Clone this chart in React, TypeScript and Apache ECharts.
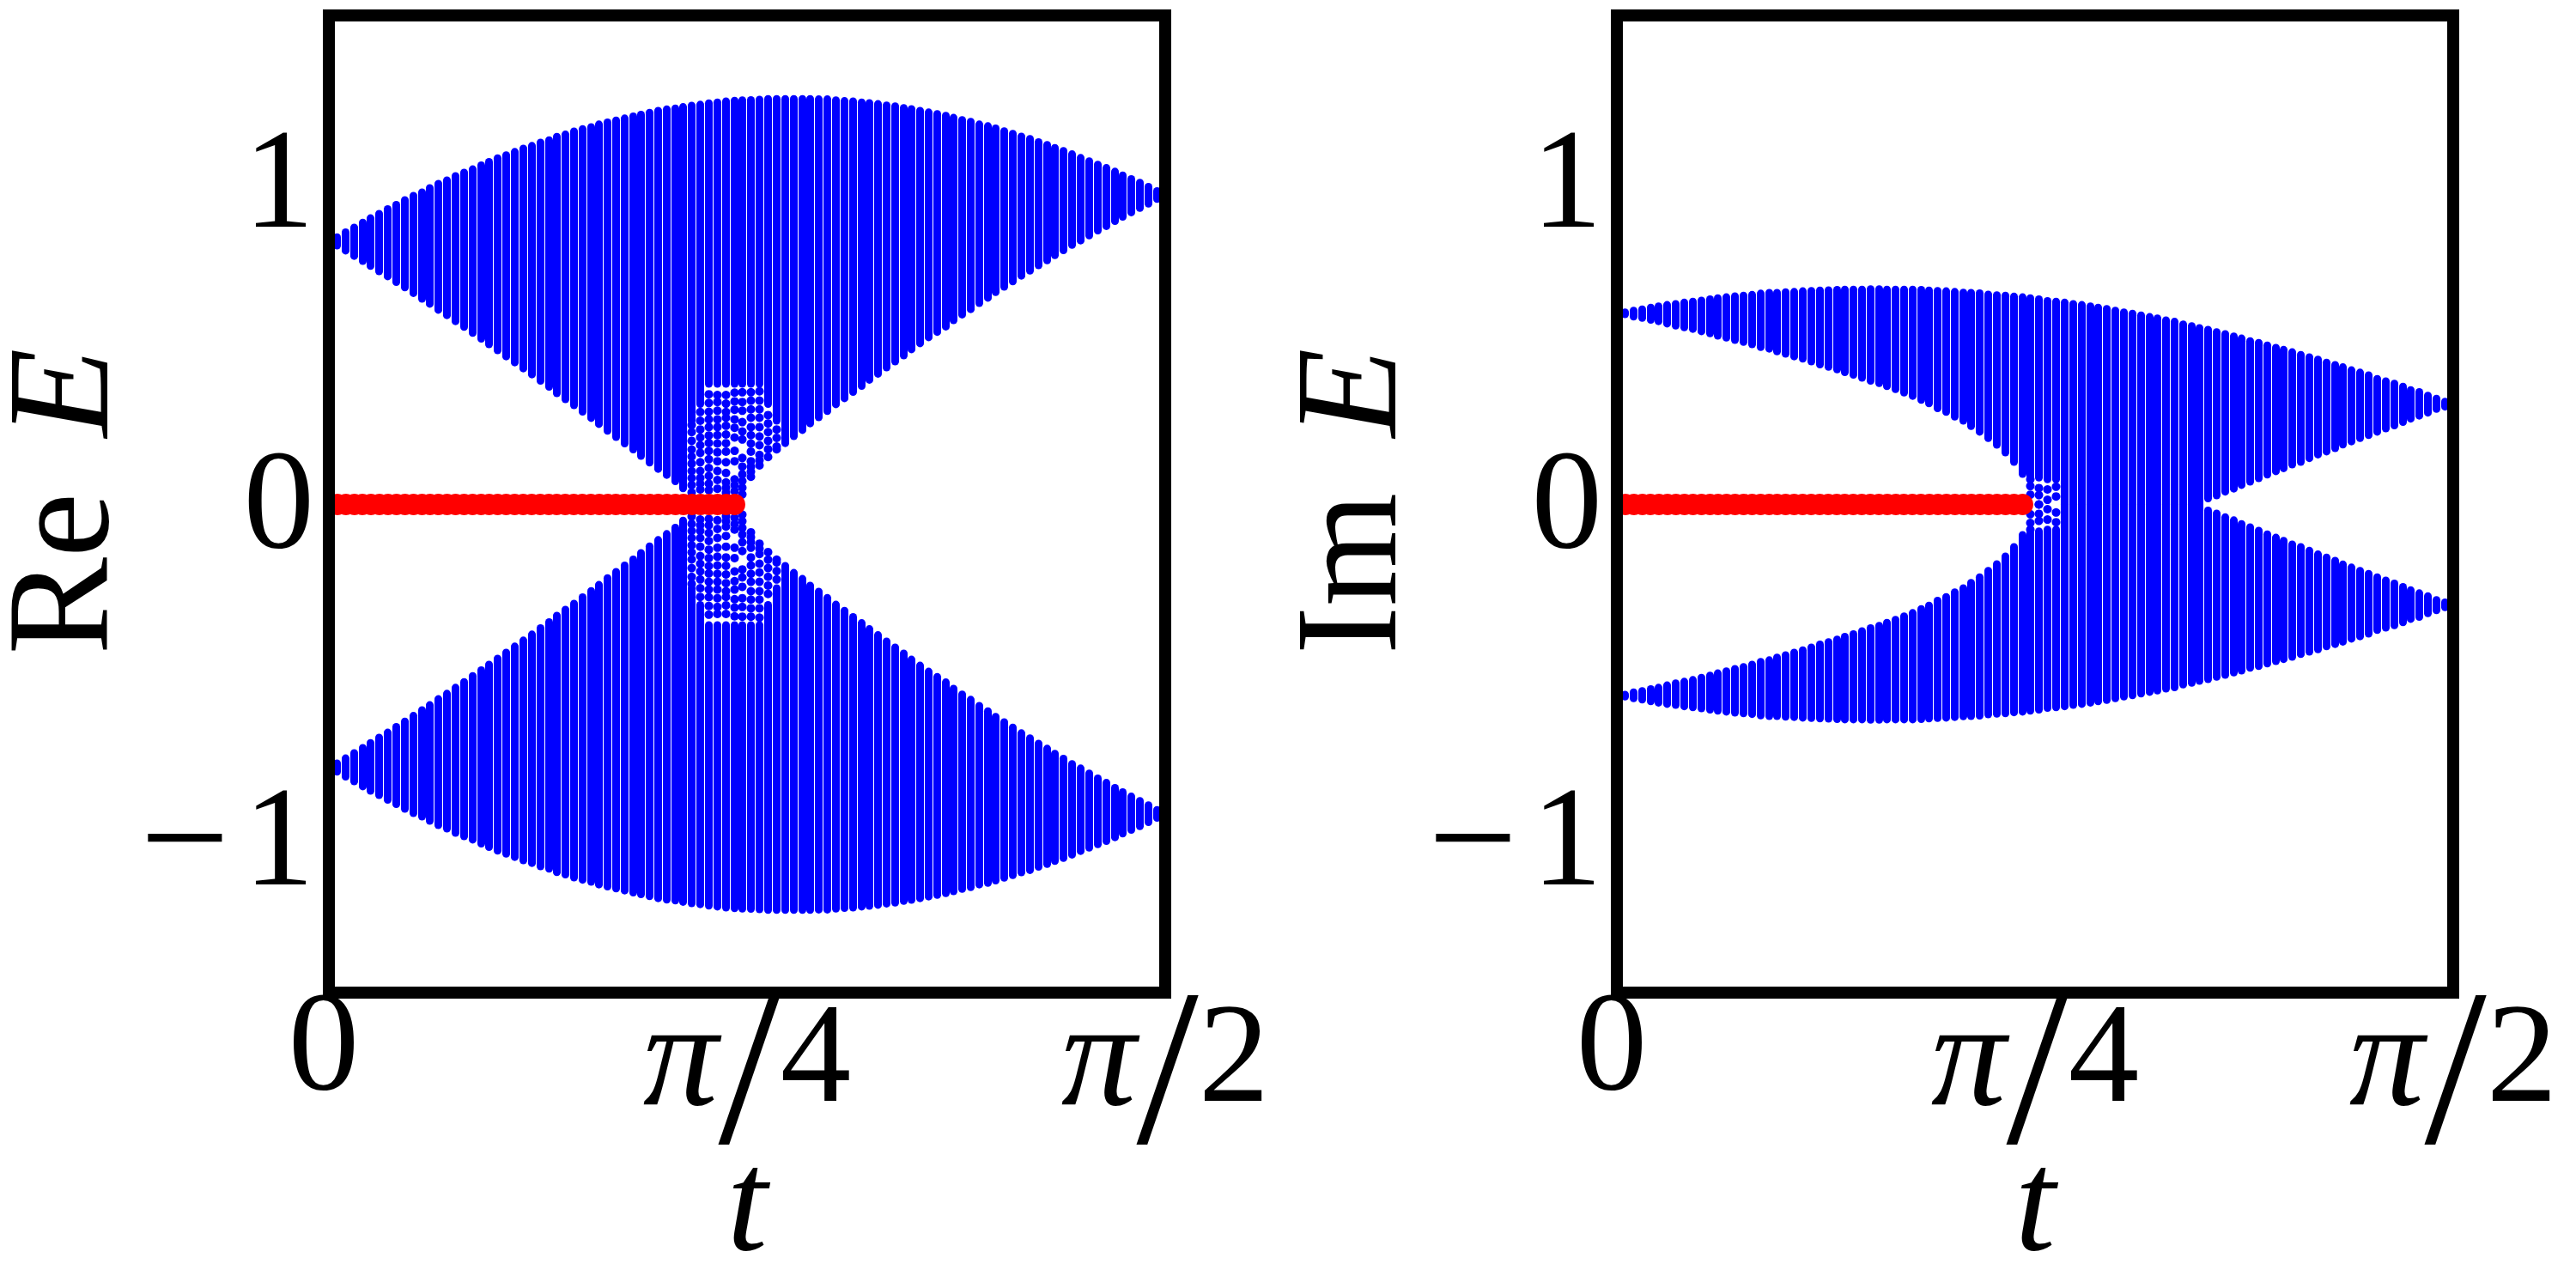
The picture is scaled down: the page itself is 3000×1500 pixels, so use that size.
import React, { useEffect, useRef } from "react";
import * as echarts from "echarts";

// Lattice parameter t of every plotted column (radians), columns hidden behind the frame left out.
const tColumns = [
  .016,.032,.048,.063,.079,.095,.111,.127,.143,.159,
  .175,.190,.206,.222,.238,.254,.270,.286,.301,.317,
  .333,.349,.365,.381,.397,.413,.428,.444,.460,.476,
  .492,.508,.524,.539,.555,.571,.587,.603,.619,.635,
  .651,.666,.682,.698,.714,.730,.746,.762,.777,.793,
  .809,.825,.841,.857,.873,.889,.904,.920,.936,.952,
  .968,.984,1.000,1.015,1.031,1.047,1.063,1.079,1.095,1.111,
  1.127,1.142,1.158,1.174,1.190,1.206,1.222,1.238,1.253,1.269,
  1.285,1.301,1.317,1.333,1.349,1.364,1.380,1.396,1.412,1.428,
  1.444,1.460,1.476,1.491,1.507,1.523,1.539,1.555,
];

// Re E: outer and inner edge of the positive band (the negative band is its mirror image).
const reOuter = [
  .798,.813,.827,.842,.855,.868,.882,.895,.909,.922,
  .932,.945,.958,.968,.981,.991,1.001,1.013,1.023,1.034,
  1.043,1.053,1.063,1.071,1.081,1.088,1.098,1.105,1.114,1.121,
  1.127,1.135,1.141,1.147,1.153,1.159,1.164,1.170,1.176,1.180,
  1.183,1.187,1.191,1.194,1.198,1.201,1.204,1.206,1.207,1.208,
  1.209,1.211,1.211,1.211,1.211,1.211,1.211,1.210,1.210,1.207,
  1.205,1.204,1.201,1.199,1.196,1.192,1.189,1.184,1.181,1.176,
  1.171,1.166,1.161,1.155,1.148,1.143,1.135,1.130,1.123,1.115,
  1.107,1.099,1.092,1.082,1.074,1.065,1.056,1.046,1.035,1.025,
  1.015,1.005,.994,.983,.972,.961,.949,.936,
];
const reInner = [
  .773,.758,.742,.727,.712,.696,.681,.664,.648,.631,
  .614,.599,.581,.565,.547,.530,.512,.495,.478,.460,
  .442,.424,.406,.388,.369,.351,.332,.314,.296,.277,
  .258,.240,.220,.201,.182,.164,.145,.125,.106,.088,
  .069,.048,.250,.300,.360,.360,.360,.360,.360,.360,
  .360,.300,.250,.183,.204,.222,.242,.260,.279,.299,
  .317,.336,.354,.372,.390,.409,.427,.445,.463,.481,
  .499,.515,.531,.550,.567,.583,.601,.617,.634,.650,
  .666,.683,.698,.714,.729,.744,.759,.775,.788,.803,
  .818,.831,.846,.859,.872,.885,.898,.912,
];
// Re E: separate dots near the gap closing, one list per column.
const reDotT = [.682,.698,.714,.730,.746,.762,.777,.793,.809,.825,.841];
const reDotE = [
  [.237,.216,.190,.164,.143,.122,.100,.079,.058,.036],
  [.276,.250,.224,.200,.177,.154,.126,.100,.079,.062,.045],
  [.329,.303,.277,.254,.231,.206,.184,.160,.135,.109,.085,.062,.043],
  [.327,.306,.280,.254,.231,.207,.182,.156,.129,.100,.073,.047],
  [.327,.301,.276,.259,.235,.209,.183,.158,.126,.094,.066,.050,.035],
  [.334,.308,.283,.254,.229,.200,.160,.129,.075,.058,.040],
  [.335,.306,.280,.246,.218,.194,.139,.113,.090,.070,.050,.030],
  [.335,.310,.284,.259,.231,.207,.182,.158,.129,.113,.098,.083],
  [.338,.310,.284,.259,.231,.203,.177,.148,.132,.117],
  [.267,.242,.216,.190,.165,.142],
  [.224,.199,.173,.165],
];

// Im E: outer and inner edge of the positive band (the negative band is its mirror image).
const imOuter = [
  .574,.579,.583,.588,.592,.596,.599,.603,.606,.609,
  .613,.616,.619,.622,.624,.626,.630,.632,.632,.634,
  .635,.637,.638,.639,.640,.641,.642,.642,.642,.643,
  .643,.642,.642,.642,.642,.641,.639,.638,.637,.635,
  .633,.632,.631,.627,.625,.624,.621,.619,.616,.613,
  .608,.606,.603,.599,.596,.592,.588,.584,.579,.574,
  .570,.565,.560,.556,.550,.546,.538,.533,.527,.522,
  .515,.509,.502,.496,.488,.483,.475,.468,.462,.455,
  .447,.440,.433,.424,.417,.410,.401,.394,.386,.375,
  .368,.361,.352,.342,.336,.325,.316,.307,
];
const imInner = [
  .568,.561,.557,.551,.547,.540,.534,.529,.524,.517,
  .511,.504,.498,.491,.485,.478,.470,.465,.457,.450,
  .442,.435,.427,.418,.411,.403,.395,.387,.378,.369,
  .362,.353,.344,.334,.324,.312,.302,.287,.276,.262,
  .250,.234,.217,.198,.178,.155,.127,.091,.085,.080,
  .075,.075,0,0,0,0,0,0,0,0,
  0,0,0,0,0,0,0,0,0,.018,
  .027,.038,.047,.058,.068,.078,.089,.099,.108,.119,
  .127,.138,.149,.158,.168,.179,.188,.198,.207,.217,
  .227,.236,.246,.256,.265,.274,.285,.292,
];
const imDotT = [.777,.793,.809,.825];
const imDotE = [
  [.075,.055,.029],
  [.049,.028,0],
  [.045,.014],
  [.053,.024],
];

// Zero modes (red): the columns up to the end of the red bar.
const zeroModeT = tColumns.slice(0, 48);

const xTicks = [0, Math.PI / 4, Math.PI / 2];
const xTickLabels = ["{zero|0}", "{pi|π}{sl|/}{d|4}", "{pi|π}{sl|/}{d|2}"];
const yTicks = [-1, 0, 1];
const yTickLabels = ["{minus|−}{neg|1}", "{zero|0}", "{one|1}"];

const FONT = "Liberation Serif";
const BLUE = "#0000ff";
const RED = "#ff0000";
const PANEL_W = 974;
const PANEL_H = 1138;
const PANEL_TOP = 18;
const PANEL_LEFTS = [383, 1883];
const Y_MIN = -1.4577;
const Y_MAX = 1.4603;
const COLUMN_WIDTH = 9;
const DOT_R = 5;

function columnData(outer: number[], inner: number[]) {
  const rows: number[][] = [];
  tColumns.forEach((t, i) => {
    rows.push([t, inner[i], outer[i]]);
    rows.push([t, -outer[i], -inner[i]]);
  });
  return rows;
}

function dotData(ts: number[], lists: number[][]) {
  const rows: number[][] = [];
  ts.forEach((t, i) => {
    lists[i].forEach((e) => {
      rows.push([t, e]);
      rows.push([t, -e]);
    });
  });
  return rows;
}

// Columns snap to whole pixels, as the rasterised columns of the reference do.
const snap = (x: number) => Math.round(x - 0.5) + 0.5;

function renderColumn(_: any, api: any) {
  const a = api.coord([api.value(0), api.value(1)]);
  const b = api.coord([api.value(0), api.value(2)]);
  const x = snap(a[0]);
  return {
    type: "line",
    shape: { x1: x, y1: a[1], x2: x, y2: b[1] },
    style: { stroke: BLUE, lineWidth: COLUMN_WIDTH, lineCap: "round", fill: null },
  };
}

function renderDot(_: any, api: any) {
  const p = api.coord([api.value(0), api.value(1)]);
  return {
    type: "circle",
    shape: { cx: snap(p[0]), cy: p[1], r: DOT_R },
    style: { fill: BLUE },
  };
}

function panelSeries(index: number, outer: number[], inner: number[], ts: number[], lists: number[][]) {
  return [
    {
      type: "custom",
      xAxisIndex: index,
      yAxisIndex: index,
      renderItem: renderColumn,
      encode: { x: 0, y: [1, 2] },
      data: columnData(outer, inner),
      silent: true,
      z: 2,
    },
    {
      type: "custom",
      xAxisIndex: index,
      yAxisIndex: index,
      renderItem: renderDot,
      encode: { x: 0, y: 1 },
      data: dotData(ts, lists),
      silent: true,
      z: 3,
    },
    {
      type: "scatter",
      xAxisIndex: index,
      yAxisIndex: index,
      symbol: "circle",
      symbolSize: 25,
      itemStyle: { color: RED, opacity: 1 },
      data: zeroModeT.map((t) => [t, 0]),
      silent: true,
      z: 4,
    },
  ];
}

function xAxisFor(index: number) {
  return {
    type: "value",
    gridIndex: index,
    min: 0,
    max: Math.PI / 2,
    axisLine: { show: false },
    axisTick: { show: false },
    splitLine: { show: false },
    axisLabel: {
      customValues: xTicks,
      margin: -17,
      verticalAlign: "top",
      fontFamily: FONT,
      color: "#000",
      formatter: (v: number) => xTickLabels[xTicks.indexOf(v)],
      rich: {
        zero: { fontSize: 165, lineHeight: 147, fontFamily: FONT, color: "#000", padding: [0, 12, 0, 0] },
        pi: { fontSize: 175, fontFamily: FONT, fontStyle: "italic", color: "#000", padding: [0, 0, 32, 0] },
        sl: { fontSize: 260, lineHeight: 200, fontFamily: FONT, color: "#000" },
        d: { fontSize: 165, fontFamily: FONT, color: "#000", padding: [0, 0, 32, 0] },
      },
    },
    name: "t",
    nameLocation: "middle",
    nameGap: 157,
    nameMoveOverlap: false,
    nameTextStyle: { fontFamily: FONT, fontStyle: "italic", fontSize: 170, color: "#000" },
  };
}

function yAxisFor(index: number, title: string) {
  return {
    type: "value",
    gridIndex: index,
    min: Y_MIN,
    max: Y_MAX,
    axisLine: { show: false },
    axisTick: { show: false },
    splitLine: { show: false },
    axisLabel: {
      customValues: yTicks,
      margin: 17,
      fontFamily: FONT,
      color: "#000",
      formatter: (v: number) => yTickLabels[yTicks.indexOf(v)],
      rich: {
        zero: { fontSize: 165, fontFamily: FONT, color: "#000", padding: [0, 0, 13, 0] },
        one: { fontSize: 165, fontFamily: FONT, color: "#000", padding: [21, 0, 0, 0] },
        minus: { fontSize: 185, fontFamily: FONT, color: "#000", padding: [0, 16, 7, 0] },
        neg: { fontSize: 165, fontFamily: FONT, color: "#000", padding: [0, 0, 7, 0] },
      },
    },
    name: `{r|${title}} {e|E}`,
    nameLocation: "middle",
    nameRotate: 90,
    nameGap: 230,
    nameMoveOverlap: false,
    nameTextStyle: {
      fontFamily: FONT,
      fontSize: 170,
      color: "#000",
      rich: {
        r: { fontFamily: FONT, fontSize: 170, lineHeight: 130, color: "#000", padding: [0, 0, 0, 6] },
        e: { fontFamily: FONT, fontStyle: "italic", fontSize: 170, lineHeight: 130, color: "#000", padding: [0, 0, 0, 22] },
      },
    },
  };
}

export default function App() {
  const ref = useRef<HTMLDivElement>(null);
  useEffect(() => {
    document.body.style.margin = "0";
    const chart = echarts.init(ref.current!, null, { renderer: "svg" });
    chart.setOption({
      animation: false,
      backgroundColor: "#fff",
      grid: PANEL_LEFTS.map((left) => ({ left, top: PANEL_TOP, width: PANEL_W, height: PANEL_H, containLabel: false, outerBoundsMode: "none" })),
      xAxis: [xAxisFor(0), xAxisFor(1)],
      yAxis: [yAxisFor(0, "Re"), yAxisFor(1, "Im")],
      series: [
        ...panelSeries(0, reOuter, reInner, reDotT, reDotE),
        ...panelSeries(1, imOuter, imInner, imDotT, imDotE),
      ],
      graphic: PANEL_LEFTS.map((left) => ({
        type: "rect",
        z: 100,
        silent: true,
        shape: { x: left, y: PANEL_TOP, width: PANEL_W, height: PANEL_H },
        style: { fill: "none", stroke: "#000", lineWidth: 14 },
      })),
    });
    return () => chart.dispose();
  }, []);
  return <div ref={ref} style={{ position: "absolute", left: 0, top: 0, width: 3000, height: 1500 }} />;
}
